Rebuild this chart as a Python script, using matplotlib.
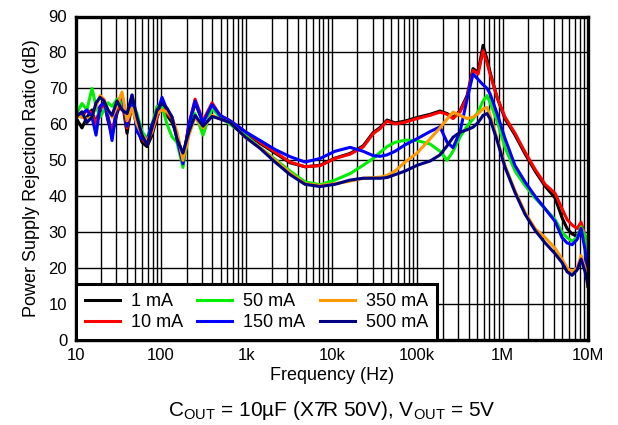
import matplotlib
matplotlib.use("Agg")
import matplotlib.pyplot as plt
from matplotlib.ticker import FixedLocator, NullFormatter, LogLocator

plt.rcParams['font.family'] = ['Liberation Sans', 'DejaVu Sans']
plt.rcParams['mathtext.fontset'] = 'custom'
plt.rcParams['mathtext.rm'] = 'Liberation Sans'

freq_hz = [10, 11.9, 13.6, 15.6, 17.4, 19.4, 21.6, 24.0, 26.8, 30.6,
           35.0, 40.1, 45.9, 52.5, 60.1, 68.7, 78.7, 90, 103, 118,
           135, 154, 181, 213, 251, 311, 397, 492, 644, 966,
           1450, 2170, 3250, 4870, 7300, 10900, 16400, 23300, 30500, 36800,
           44400, 55100, 72200, 99700, 142000, 185000, 224000, 263000, 318000, 384000,
           451000, 517000, 591000, 658000, 714000, 862000, 1.07e6, 1.40e6, 1.83e6, 2.40e6,
           3.15e6, 4.12e6, 4.97e6, 5.69e6, 6.51e6, 7.46e6, 8.30e6, 9.25e6, 1.0e7]

psrr_1ma = [62, 59, 62, 64, 60, 65, 66, 61, 57, 63,
            67, 57.5, 66, 59, 55, 53.8, 57, 62, 65.5, 62.5,
            60.5, 57, 50.5, 59.5, 66, 60.5, 65.5, 62, 60.5, 57.7,
            54.7, 52, 49.3, 48.2, 48.6, 50.6, 51.9, 54, 57.7, 59.1,
            61.2, 60.4, 60.9, 61.9, 62.8, 63.7, 63, 61.9, 63.8, 68,
            75.5, 74.5, 82, 78, 74.5, 67.5, 61.5, 57, 51.8, 47,
            42.8, 39.5, 34, 31, 29.5, 28.8, 31.4, 27, 15]

psrr_10ma = [63, 62, 64, 63, 60, 64, 66, 62, 58, 64,
             67, 59, 66, 60, 56, 54.5, 58, 62, 66, 63,
             61.5, 57, 50, 60, 67, 61, 66, 62.5, 61, 58,
             55, 52.3, 49.5, 48.2, 48.5, 50.5, 51.7, 53.7, 57.4, 58.8,
             60.9, 60.1, 60.6, 61.6, 62.5, 63.4, 62.8, 61.6, 63.5, 67.5,
             75, 74, 80.5, 77, 74, 67.5, 62, 57.5, 52.3, 47.5,
             43.3, 40.8, 36.5, 33.5, 32, 31, 32.8, 29, 15]

psrr_50ma = [62.5, 65.8, 64, 70, 65, 62, 64, 66, 65, 67,
             66, 62, 66, 63, 58, 56, 60, 65, 65, 60,
             56.5, 55, 48, 58, 63, 57, 64.5, 62, 60, 57,
             53.5, 50.3, 47, 44, 43.2, 44.5, 46.3, 48.6, 50.5, 52.2,
             53.8, 55, 55.6, 55.5, 54.5, 52.5, 50, 52.5, 56.5, 59.5,
             61.5, 63.5, 66.5, 68, 66, 61, 53.5, 47, 43, 39.5,
             36.5, 33.5, 30, 28.5, 27.5, 28.5, 31.5, 29, 15]

psrr_150ma = [62, 63, 64, 62, 57, 65, 66, 62, 55.5, 65.5,
              68.5, 59.5, 68, 58, 56, 55.5, 60, 63, 67.5, 64,
              62, 56, 49, 60, 66.5, 60.5, 65.5, 62.5, 61, 58,
              55.5, 53, 51, 49.5, 50.5, 52.5, 53.6, 52.5, 51.3, 51.1,
              51.5, 52.5, 54.3, 56, 58, 59.3, 55, 53.5, 58, 67,
              74, 72.5, 71, 70, 68.5, 63, 56, 48.5, 44, 40,
              36.5, 33, 28.5, 27, 26.5, 28, 31, 25, 15]

psrr_350ma = [62.5, 62, 61.5, 62, 65, 68, 67, 64, 62, 65,
              69, 61, 64.5, 60, 57, 55.5, 58, 63, 64, 63.5,
              62, 58, 50, 57, 62, 59, 62.5, 61.5, 60.5, 56.5,
              53.5, 50, 46.5, 43.5, 43, 43.5, 44.2, 45, 45.2, 45.3,
              45.8, 47, 49.5, 52, 56, 59, 61.5, 63.4, 62.5, 61.6,
              62, 63, 64.3, 64.7, 62.5, 56, 48.5, 41.5, 35.5, 31,
              28.5, 25.5, 22.5, 20, 19, 20, 23.5, 20, 15]

psrr_500ma = [62, 63.5, 60.5, 62, 66, 67.5, 66.5, 64, 62.5, 66.5,
              64, 63, 68.2, 62, 57, 54.3, 59, 64, 65.8, 64.5,
              62, 56, 52, 58, 62.5, 59.5, 62.2, 61.5, 60.5, 56.5,
              53.3, 49.5, 46, 43.3, 42.7, 43.3, 44.5, 45, 45, 45,
              45.2, 46, 47, 48.6, 49.8, 51.5, 54, 56.4, 57.8, 58.5,
              59.2, 60.5, 62.5, 63, 61.5, 55.5, 48, 41, 35, 30.5,
              27, 24, 21.5, 19, 18, 19.5, 22.5, 19, 15]

series_labels = ['1 mA', '10 mA', '50 mA', '150 mA', '350 mA', '500 mA']
series_colors = ['#000000', '#ff0000', '#00ee00', '#0000ff', '#ff9900', '#000080']
series_values = [psrr_1ma, psrr_10ma, psrr_50ma, psrr_150ma, psrr_350ma, psrr_500ma]

x_ticks = [10, 100, 1e3, 1e4, 1e5, 1e6, 1e7]
x_tick_labels = ['10', '100', '1k', '10k', '100k', '1M', '10M']
y_ticks = [0, 10, 20, 30, 40, 50, 60, 70, 80, 90]

fig = plt.figure(figsize=(6.18, 4.25), dpi=100)
ax = fig.add_axes([75.5 / 618, 1 - 340 / 425, (588 - 75.5) / 618, (340 - 16.5) / 425])

for vals, lab, col in zip(series_values, series_labels, series_colors):
    ax.plot(freq_hz, vals, color=col, lw=2.2, label=lab, zorder=3)

ax.set_xscale('log')
ax.set_xlim(10, 1e7)
ax.set_ylim(0, 90)
ax.xaxis.set_major_locator(FixedLocator(x_ticks))
ax.set_xticklabels(x_tick_labels)
ax.xaxis.set_minor_locator(LogLocator(base=10, subs=[2, 3, 4, 5, 6, 7, 8, 9], numticks=20))
ax.xaxis.set_minor_formatter(NullFormatter())
ax.set_yticks(y_ticks)
ax.tick_params(axis='both', which='both', length=0, labelsize=12, pad=6)
ax.grid(True, which='both', color='black', lw=1.0, zorder=1)
ax.set_axisbelow(True)
for s in ax.spines.values():
    s.set_linewidth(2.4)
    s.set_zorder(5)

ax.set_xlabel('Frequency (Hz)', fontsize=13, labelpad=3)
ax.set_ylabel('Power Supply Rejection Ratio (dB)', fontsize=13, labelpad=6)

leg = ax.legend(loc='lower left', ncol=3, fontsize=13, frameon=True, fancybox=False,
                borderaxespad=0, handlelength=1.95, handletextpad=0.6,
                columnspacing=0.8, labelspacing=0.2, borderpad=0.5)
leg.get_frame().set_edgecolor('black')
leg.get_frame().set_linewidth(2.2)
leg.get_frame().set_facecolor('white')
leg.get_frame().set_alpha(1)
leg.set_zorder(6)

fig.text(332 / 618, 1 - 410 / 425,
         r'C$_{\mathregular{OUT}}$ = 10µF (X7R 50V), V$_{\mathregular{OUT}}$ = 5V',
         ha='center', va='center', fontsize=15)

fig.savefig('out.png', dpi=100)
